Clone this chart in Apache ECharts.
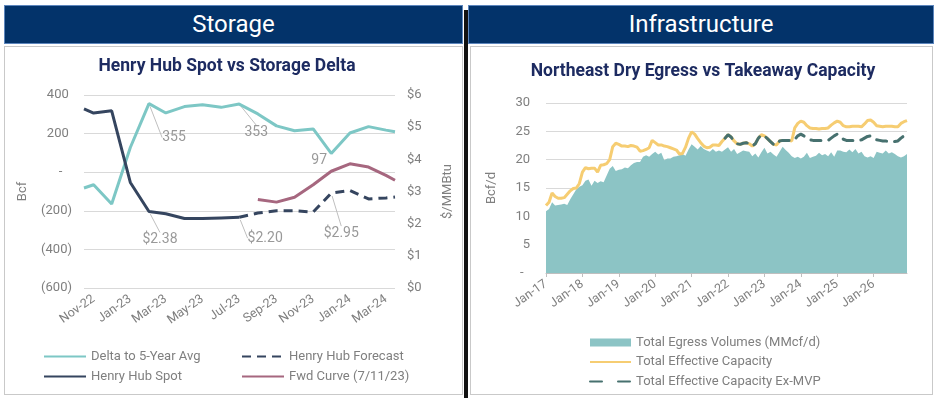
<!DOCTYPE html>
<html>
<head>
<meta charset="utf-8">
<script src="https://cdn.jsdelivr.net/npm/echarts@6/dist/echarts.min.js"></script>
<style>
  html, body { margin: 0; padding: 0; background: #fff; width: 936px; height: 398px; overflow: hidden; }
  .banner { position: absolute; top: 5px; height: 37px; background: #03336a; border: 1px solid #5d86bd;
            color: #fff; font: 24px Roboto, 'Liberation Sans', sans-serif; text-align: center; line-height: 37px; }
  .panel { position: absolute; top: 46px; height: 347px; border: 1px solid #c9c9c9; background: #fff; }
  #bar { position: absolute; left: 464px; top: 10px; width: 4px; height: 388px; background: #111; }
</style>
</head>
<body>
<div class="banner" style="left:4px;width:457px;">Storage</div>
<div class="banner" style="left:468px;width:464px;">Infrastructure</div>
<div id="bar"></div>
<div class="panel" id="storage" style="left:4px;width:457px;"></div>
<div class="panel" id="infra" style="left:470px;width:461px;"></div>
<script>
// ---- Storage panel data ----
var storageDates = ['2022-10-16', '2022-11-01', '2022-12-01', '2023-01-01', '2023-02-01', '2023-03-01',
  '2023-04-01', '2023-05-01', '2023-06-01', '2023-07-01', '2023-08-01', '2023-09-01', '2023-10-01',
  '2023-11-01', '2023-12-01', '2024-01-01', '2024-02-01', '2024-03-01', '2024-03-16'];
var storageTicks = ['2022-11-01', '2023-01-01', '2023-03-01', '2023-05-01', '2023-07-01',
  '2023-09-01', '2023-11-01', '2024-01-01', '2024-03-01'];
var deltaTo5Yr = [-82, -65, -165, 128, 355, 307, 340, 350, 336, 353, 302, 240, 215, 224, 97, 203, 236, 218, 210];
var hhSpot = [5.57, 5.44, 5.51, 3.28, 2.38, 2.31, 2.16, 2.16, 2.18, 2.20,
  null, null, null, null, null, null, null, null, null];
var hhForecast = [null, null, null, null, null, null, null, null, null, 2.20,
  2.33, 2.40, 2.40, 2.36, 2.95, 3.03, 2.77, 2.80, 2.83];
var fwdCurve = [null, null, null, null, null, null, null, null, null, null,
  2.75, 2.67, 2.82, 3.21, 3.63, 3.86, 3.76, 3.50, 3.35];
var calloutIdx = [4, 9, 14];

// ---- Infrastructure panel data ----
var infraYears = ['17', '18', '19', '20', '21', '22', '23', '24', '25', '26'];
var monthAbbr = ['Jan', 'Feb', 'Mar', 'Apr', 'May', 'Jun', 'Jul', 'Aug', 'Sep', 'Oct', 'Nov', 'Dec'];
var egressVolumes = [
  10.9, 11.3, 12.5, 11.9, 12.0, 12.1, 12.2, 12.0, 13.0, 13.9, 14.8, 15.2,
  15.5, 16.3, 16.5, 15.4, 16.3, 15.9, 16.2, 16.0, 17.2, 18.4, 18.9, 18.0,
  18.2, 18.3, 18.6, 18.5, 19.0, 19.4, 19.6, 19.6, 20.5, 20.8, 20.5, 21.0,
  21.4, 20.9, 21.2, 19.9, 20.2, 20.2, 20.5, 20.6, 20.8, 21.0, 20.7, 21.8,
  22.7, 22.3, 21.8, 22.4, 21.9, 21.6, 21.4, 21.9, 21.4, 21.6, 21.4, 21.8,
  22.2, 21.4, 21.9, 21.0, 21.3, 21.6, 21.5, 21.4, 20.6, 21.1, 20.4, 21.3,
  22.1, 21.1, 21.4, 20.9, 20.5, 21.4, 22.3, 21.7, 21.2, 20.6, 20.3, 20.5,
  20.2, 20.5, 21.2, 20.3, 20.5, 20.7, 21.2, 20.8, 21.0, 20.6, 21.3, 20.5,
  21.6, 21.6, 21.4, 21.3, 21.8, 21.3, 21.9, 21.1, 21.4, 20.6, 20.4, 20.6,
  20.3, 21.4, 21.2, 21.1, 21.6, 21.1, 21.3, 21.0, 20.6, 20.4, 20.6, 21.0];
var effectiveCapacity = [
  11.9, 12.5, 14.1, 13.5, 13.2, 13.2, 13.3, 13.9, 14.5, 14.9, 15.0, 15.8,
  17.8, 18.6, 18.4, 18.5, 18.5, 17.8, 19.0, 19.1, 19.3, 20.0, 22.3, 22.9,
  22.7, 22.4, 22.4, 22.3, 22.5, 22.4, 22.2, 21.5, 21.6, 21.8, 22.1, 23.4,
  23.0, 22.6, 22.6, 22.4, 22.3, 22.1, 21.9, 21.7, 21.0, 21.1, 22.2, 23.8,
  24.9, 24.5, 23.7, 23.0, 22.4, 22.1, 22.2, 22.6, 22.6, 22.5, 23.2, 23.8,
  24.4, 24.0, 23.3, 22.8, 22.7, 22.9, 23.0, 22.8, 22.4, 22.8, 23.8, 24.4,
  24.2, 23.7, 23.2, 22.7, 22.6, 23.3, 23.4, 23.4, 23.4, 23.3, 25.6, 26.4,
  26.8, 26.6, 26.0, 25.6, 25.5, 25.5, 25.4, 25.5, 25.5, 25.6, 26.1, 26.5,
  26.8, 26.6, 26.0, 25.8, 25.8, 25.9, 25.9, 25.9, 25.8, 26.3, 26.9, 27.0,
  26.6, 26.0, 25.9, 25.8, 25.9, 25.9, 25.9, 25.8, 25.8, 26.4, 26.7, 26.9];
var capacityExMvp = [
  null, null, null, null, null, null, null, null, null, null, null, null,
  null, null, null, null, null, null, null, null, null, null, null, null,
  null, null, null, null, null, null, null, null, null, null, null, null,
  null, null, null, null, null, null, null, null, null, null, null, null,
  null, null, null, null, null, null, null, null, null, null, null, 23.8,
  24.4, 24.0, 23.3, 22.8, 22.7, 22.9, 23.0, 22.8, 22.4, 22.8, 23.8, 24.4,
  24.2, 23.7, 23.2, 22.7, 22.6, 23.3, 23.4, 23.4, 23.4, 23.3, 23.6, 24.2,
  24.5, 24.2, 23.8, 23.5, 23.4, 23.4, 23.4, 23.4, 23.4, 23.4, 23.8, 24.2,
  24.5, 24.1, 23.6, 23.4, 23.4, 23.4, 23.4, 23.4, 23.5, 23.8, 24.1, 24.2,
  23.8, 23.5, 23.4, 23.3, 23.3, 23.2, 23.2, 23.2, 23.3, 23.8, 24.2, 24.4];

var infraMonths = [];
infraYears.forEach(function (y) {
  monthAbbr.forEach(function (m) { infraMonths.push(m + '-' + y); });
});

var gray = '#7f7f7f';
var gridGray = '#d9d9d9';
var bodyFont = 'Roboto, "Liberation Sans", sans-serif';
var titleFont = '"Liberation Sans Narrow", "Roboto", sans-serif';

// dates as ms timestamps, placed on a plain value axis
function ts(s) {
  var p = s.split('-');
  return new Date(+p[0], +p[1] - 1, +p[2]).getTime();
}
function pairs(vals) {
  return storageDates.map(function (d, i) { return [ts(d), vals[i]]; });
}
function monLabel(v) {
  var d = new Date(v);
  return monthAbbr[d.getMonth()] + '-' + String(d.getFullYear()).slice(2);
}

// offsets of the callout labels from their points
var deltaOffsets = [[25, 34], [17, 28], [-12, 7]];
var priceOffsets = [[11, 28], [26, 21], [10, 40]];

// legend: line only, hide the symbol drawn in the middle of the icon
var legendBase = {
  orient: 'vertical', top: 303, padding: 0,
  itemWidth: 42, itemHeight: 14, itemGap: 7,
  itemStyle: { opacity: 0 },
  textStyle: { color: gray, fontSize: 13 }
};

var storageChart = echarts.init(document.getElementById('storage'));
storageChart.setOption({
  animation: false,
  textStyle: { fontFamily: bodyFont },
  title: {
    text: 'Henry Hub Spot vs Storage Delta',
    left: 217, top: 6, textAlign: 'center',
    textStyle: { fontFamily: titleFont, fontSize: 17.5, fontWeight: 'bold', color: '#1d2b61' }
  },
  grid: { left: 79, top: 48, width: 317, height: 193 },
  legend: [
    Object.assign({}, legendBase, { left: 38, data: ['Delta to 5-Year Avg', 'Henry Hub Spot'] }),
    Object.assign({}, legendBase, { left: 236, data: ['Henry Hub Forecast', 'Fwd Curve (7/11/23)'] })
  ],
  xAxis: {
    type: 'value',
    min: ts(storageDates[0]),
    max: ts(storageDates[storageDates.length - 1]),
    axisLine: { show: false },
    axisTick: { show: false },
    splitLine: { show: false },
    axisLabel: {
      customValues: storageTicks.map(ts),
      formatter: monLabel,
      rotate: 35, margin: 10, color: gray, fontSize: 12.5
    }
  },
  yAxis: [{
    type: 'value', min: -600, max: 400, interval: 200,
    name: 'Bcf', nameLocation: 'middle', nameGap: 55, nameRotate: 90,
    nameTextStyle: { color: gray, fontSize: 13 },
    axisLine: { show: false }, axisTick: { show: false },
    splitLine: { lineStyle: { color: gridGray } },
    axisLabel: {
      color: gray, fontSize: 13, margin: 12,
      formatter: function (v) { return v === 0 ? '-   ' : v < 0 ? '(' + (-v) + ')' : v + ' '; }
    }
  }, {
    type: 'value', min: 0, max: 6, interval: 1, position: 'right',
    name: '$/MMBtu', nameLocation: 'middle', nameGap: 46, nameRotate: 90,
    nameTextStyle: { color: gray, fontSize: 13 },
    axisLine: { show: false }, axisTick: { show: false },
    splitLine: { show: false },
    axisLabel: { color: gray, fontSize: 13, margin: 12, formatter: '${value}' }
  }],
  series: [{
    name: 'Delta to 5-Year Avg', type: 'line', yAxisIndex: 0,
    data: pairs(deltaTo5Yr), symbol: 'none', color: '#7dc7c5',
    lineStyle: { width: 3 }
  }, {
    name: 'Henry Hub Spot', type: 'line', yAxisIndex: 1,
    data: pairs(hhSpot), symbol: 'none', color: '#35455f',
    lineStyle: { width: 3 }
  }, {
    name: 'Henry Hub Forecast', type: 'line', yAxisIndex: 1,
    data: pairs(hhForecast), symbol: 'none', color: '#35455f',
    lineStyle: { width: 3, type: [9, 6] }
  }, {
    name: 'Fwd Curve (7/11/23)', type: 'line', yAxisIndex: 1,
    data: pairs(fwdCurve), symbol: 'none', color: '#a6677f',
    lineStyle: { width: 3 }
  }, {
    name: 'delta callouts', type: 'scatter', yAxisIndex: 0, symbolSize: 6,
    itemStyle: { color: 'rgba(0,0,0,0)' },
    data: calloutIdx.map(function (i, k) {
      return { value: [ts(storageDates[i]), deltaTo5Yr[i]], labelLine: { show: k !== 2 } };
    }),
    label: { show: true, position: 'inside', color: gray, fontSize: 14,
      formatter: function (p) { return String(p.value[1]); } },
    labelLine: { show: true, lineStyle: { color: '#bfbfbf', width: 1 } },
    labelLayout: function (p) { var o = deltaOffsets[p.dataIndex]; return { dx: o[0], dy: o[1] }; }
  }, {
    name: 'price callouts', type: 'scatter', yAxisIndex: 1, symbolSize: 6,
    itemStyle: { color: 'rgba(0,0,0,0)' },
    data: calloutIdx.map(function (i) {
      return [ts(storageDates[i]), i > 9 ? hhForecast[i] : hhSpot[i]];
    }),
    label: { show: true, position: 'inside', color: gray, fontSize: 14,
      formatter: function (p) { return '$' + p.value[1].toFixed(2); } },
    labelLine: { show: true, lineStyle: { color: '#bfbfbf', width: 1 } },
    labelLayout: function (p) { var o = priceOffsets[p.dataIndex]; return { dx: o[0], dy: o[1] }; }
  }]
});

var infraChart = echarts.init(document.getElementById('infra'));
infraChart.setOption({
  animation: false,
  textStyle: { fontFamily: bodyFont },
  title: {
    text: 'Northeast Dry Egress vs Takeaway Capacity',
    left: 227, top: 11, textAlign: 'center',
    textStyle: { fontFamily: titleFont, fontSize: 17.5, fontWeight: 'bold', color: '#1d2b61' }
  },
  grid: { left: 75, top: 56, width: 361, height: 170 },
  legend: {
    orient: 'vertical', left: 118, top: 289, padding: 0,
    itemWidth: 41, itemHeight: 8, itemGap: 6.5,
    itemStyle: { opacity: 0 },
    textStyle: { color: gray, fontSize: 13 },
    data: [
      { name: 'Total Egress Volumes (MMcf/d)', icon: 'rect', itemStyle: { opacity: 1, color: '#8cc4c5' } },
      { name: 'Total Effective Capacity' },
      { name: 'Total Effective Capacity Ex-MVP', lineStyle: { type: [12, 16] } }
    ]
  },
  xAxis: {
    type: 'category', data: infraMonths, boundaryGap: false,
    axisLine: { lineStyle: { color: '#bfbfbf' } },
    axisTick: { interval: 11, length: 4, lineStyle: { color: '#bfbfbf' } },
    axisLabel: { interval: 11, rotate: 35, margin: 10, color: gray, fontSize: 12.5 }
  },
  yAxis: {
    type: 'value', min: 0, max: 30, interval: 5,
    name: 'Bcf/d', nameLocation: 'middle', nameGap: 48, nameRotate: 90,
    nameTextStyle: { color: gray, fontSize: 13 },
    axisLine: { show: false }, axisTick: { show: false },
    splitLine: { lineStyle: { color: gridGray } },
    axisLabel: { color: gray, fontSize: 13, margin: 16,
      formatter: function (v) { return v === 0 ? '-  ' : String(v); } }
  },
  series: [{
    name: 'Total Egress Volumes (MMcf/d)', type: 'line', data: egressVolumes,
    symbol: 'none', color: '#8cc4c5',
    lineStyle: { width: 0 }, areaStyle: { color: '#8cc4c5', opacity: 1 }
  }, {
    name: 'Total Effective Capacity', type: 'line', data: effectiveCapacity,
    symbol: 'none', color: '#f6cd72', lineStyle: { width: 3 }
  }, {
    name: 'Total Effective Capacity Ex-MVP', type: 'line', data: capacityExMvp,
    symbol: 'none', color: '#47716f', lineStyle: { width: 3, type: [10, 8], cap: 'round' }
  }]
});
</script>
</body>
</html>
